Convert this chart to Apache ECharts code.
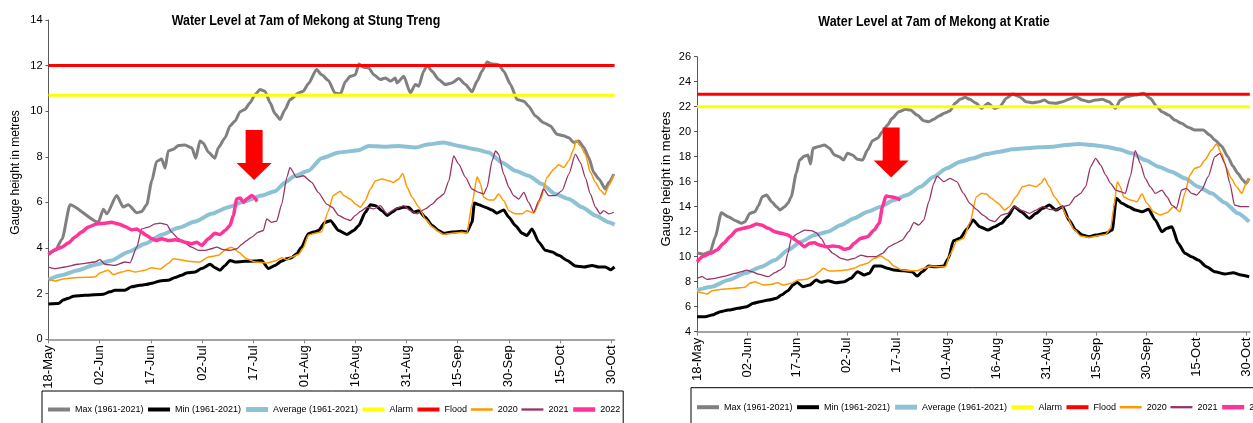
<!DOCTYPE html>
<html>
<head>
<meta charset="utf-8">
<script src="https://cdn.jsdelivr.net/npm/echarts@6.0.0/dist/echarts.min.js"></script>
<style>
html,body{margin:0;padding:0;background:#fff;}
#c{width:1253px;height:423px;}
</style>
</head>
<body>
<div id="c"></div>
<script>
// ---------- DATA ----------
const tickLabels = ['18-May','02-Jun','17-Jun','02-Jul','17-Jul','01-Aug','16-Aug','31-Aug','15-Sep','30-Sep','15-Oct','30-Oct'];
const tickDays = [0,15,30,45,60,75,90,105,120,135,150,165];
const lastDay = 166;
const seriesNames = ['Max (1961-2021)','Min (1961-2021)','Average (1961-2021)','Alarm','Flood','2020','2021','2022'];
const stationTitles = ['Water Level at 7am of Mekong at Stung Treng','Water Level at 7am of Mekong at Kratie'];
const yAxisTitle = 'Gauge height in metres';

// Stung Treng  [day since 18-May, metres]
const stAlarm = 10.7;
const stFlood = 12;
const stMax = [[0,3.75],[2,3.9],[4,4.4],[6.3,5.9],[14.6,5.13],[16.1,5.7],[17.1,5.5],[20,6.3],[21.9,5.8],[23.4,5.9],[25.9,5.55],[27.3,5.6],[28.8,5.9],[30.3,6.95],[31.7,7.8],[33.2,7.9],[34.2,7.5],[35.1,8.26],[36.6,8.33],[38.1,8.5],[40,8.52],[42,8.4],[43.2,7.94],[44.4,8.7],[45.4,8.6],[46.9,8.2],[48.8,7.94],[49.8,8.4],[51.8,8.84],[53.2,9.35],[54.7,9.57],[56.2,9.98],[57.6,10.08],[59.1,10.37],[60.6,10.73],[62,10.95],[63.5,10.88],[65,10.37],[66.4,9.9],[67.9,9.64],[69.4,10.08],[70.8,10.5],[73.3,10.8],[74.7,10.88],[76.2,11.2],[78.6,11.83],[80.1,11.6],[82.1,11.35],[84,10.8],[85.6,10.76],[87.1,11.3],[88.5,11.53],[90,11.6],[91,12.07],[92.4,11.93],[93.9,11.9],[95.4,11.6],[97.3,11.39],[98.8,11.46],[100.3,11.32],[101.7,11.46],[102.2,11.24],[104.2,11.53],[106.1,10.8],[107.6,11.17],[108.6,11.1],[110,11.75],[111,12.01],[112.5,11.75],[114.4,11.39],[116.4,11.17],[118.3,11.24],[120.3,11.43],[122.3,11.17],[124.2,10.85],[125.7,11.32],[127.1,11.75],[128.6,12.16],[130.1,12.07],[132,12.04],[133.5,11.75],[135.5,11.17],[137.4,10.51],[139.4,10.44],[140.8,10.22],[142.8,9.79],[145.2,9.5],[147.2,9.35],[149.1,8.99],[151.1,8.92],[152.6,8.84],[154,8.63],[155.5,8.7],[157,8.41],[158.4,7.98],[159.9,7.31],[161.4,7.03],[163.3,6.59],[164.3,6.88],[165.8,7.24]];
const stMin = [[0,1.55],[2.9,1.57],[4.3,1.72],[5.8,1.8],[7.3,1.89],[10.7,1.93],[16.1,1.98],[18,2.08],[19.5,2.15],[22.4,2.15],[24.4,2.3],[26.8,2.37],[28.5,2.4],[30.7,2.47],[32.7,2.56],[35.1,2.59],[37.1,2.71],[39,2.81],[40.5,2.91],[43,2.95],[44.9,3.1],[47.4,3.29],[48.8,3.14],[50.3,3.03],[51.8,3.24],[53.2,3.46],[54.7,3.39],[57.6,3.42],[60.6,3.43],[62.5,3.46],[64.5,3.1],[66.4,3.24],[68.4,3.43],[69.9,3.53],[71.3,3.58],[72.8,3.75],[74.2,4.04],[76.2,4.63],[77.7,4.7],[79.2,4.77],[81.1,5.13],[82.7,5.2],[85.1,4.77],[87.5,4.6],[89.5,4.77],[91,4.99],[92.9,5.57],[94.4,5.9],[95.9,5.86],[97.8,5.64],[99.3,5.43],[100.7,5.57],[102.2,5.72],[104.2,5.79],[105.6,5.79],[107.1,5.57],[108.6,5.64],[110.5,5.35],[112.5,4.99],[114.4,4.77],[115.9,4.65],[118.3,4.7],[121.3,4.74],[122.7,4.7],[124.2,5.13],[124.9,5.98],[126.2,5.9],[128.1,5.79],[130.1,5.67],[131.5,5.53],[133.5,5.67],[135,5.35],[136.9,4.99],[138.9,4.65],[140.3,4.55],[141.8,4.84],[143.8,4.26],[145.7,3.9],[147.7,3.83],[149.6,3.68],[152.1,3.46],[154.5,3.21],[157,3.17],[159.4,3.24],[161.4,3.17],[163.3,3.17],[164.8,3.05],[166,3.17]];
const stAvg = [[0,2.62],[3.9,2.81],[8.7,3.03],[13.6,3.27],[18.5,3.46],[23.4,3.83],[28.3,4.19],[33.2,4.58],[38.1,4.89],[43,5.16],[47.8,5.5],[52.7,5.79],[57.6,6.05],[62.5,6.3],[66.4,6.49],[69.4,6.88],[72.3,7.17],[76.2,7.39],[80.1,7.94],[85.1,8.19],[91,8.29],[93.9,8.48],[98.8,8.44],[102.7,8.48],[107.6,8.41],[111.5,8.55],[115.9,8.63],[120.3,8.48],[125.2,8.33],[129.1,8.19],[133,7.75],[136.9,7.39],[140.8,7.17],[144.7,6.81],[148.6,6.37],[152.6,6.15],[156.5,5.79],[160.4,5.43],[164.3,5.13],[166,5.02]];
const st2020 = [[0,2.62],[2,2.56],[4.8,2.66],[8.7,2.71],[13.6,2.73],[15.1,2.91],[17.5,3.03],[19,2.84],[21.5,2.95],[23.4,3.03],[25.4,2.95],[28.3,3.03],[30.3,3.14],[32.7,3.08],[35.1,3.32],[36.6,3.53],[38.6,3.49],[41,3.42],[44.4,3.39],[46.9,3.61],[49.8,3.68],[52.3,3.97],[53.7,4.04],[55.7,3.83],[58.1,3.53],[60.6,3.39],[64,3.35],[66.4,3.43],[68.4,3.58],[69.9,3.49],[71.3,3.61],[73.3,3.72],[74.7,4.0],[76.2,4.57],[78.2,4.65],[80.1,4.72],[82,5.6],[83.5,6.3],[85.6,6.49],[86.6,6.3],[88.5,6.15],[90,5.93],[91.5,5.79],[92.9,6.08],[94.4,6.59],[95.9,6.95],[97.8,7.03],[99.8,6.95],[101.2,6.88],[102.7,7.03],[103.9,7.27],[105.2,6.66],[106.6,6.23],[108.6,5.79],[110.5,5.28],[112.5,4.94],[114.4,4.72],[115.9,4.6],[118.3,4.65],[121.3,4.69],[122.7,4.65],[124.2,5.93],[125.7,7.13],[126.7,6.81],[127.6,6.23],[129.1,6.11],[130.6,6.11],[132,6.37],[133.5,6.08],[135,5.64],[136.9,5.5],[138.9,5.5],[140.3,5.64],[142.3,5.53],[144.2,6.08],[146.2,7.1],[148.2,7.46],[149.6,7.65],[151.1,7.53],[152.6,7.83],[154,8.33],[154.7,8.73],[156,8.48],[157.4,8.12],[158.9,7.32],[160.4,6.88],[161.8,6.55],[163.1,6.34],[164.3,6.73],[165.8,7.21]];
const st2021 = [[0,3.17],[2,3.1],[4.8,3.17],[8.7,3.29],[13.6,3.39],[15.1,3.49],[16.6,3.29],[19.5,3.24],[22.4,3.39],[23.9,3.35],[25.9,4.04],[27.3,4.84],[29.3,4.92],[31.2,5.06],[32.7,5.09],[34.7,5.03],[36.1,4.7],[38.1,4.41],[40,4.22],[42,4.04],[44,3.9],[45.9,3.9],[47.8,3.97],[49.3,4.04],[51.3,3.93],[53.2,3.9],[55.2,3.97],[56.7,4.16],[58.1,4.33],[59.6,4.48],[61.5,4.7],[63,4.77],[64,5.28],[65.4,5.13],[66.9,5.18],[68.4,5.93],[69.9,7.1],[70.8,7.53],[72.8,7.1],[74.7,7.17],[77.2,6.88],[79.1,6.44],[81.6,5.93],[83.2,5.79],[85.1,5.43],[87.1,5.28],[88.5,5.21],[90,5.43],[91.5,5.61],[93.4,5.79],[95.4,5.72],[97.3,5.86],[99.3,5.5],[101.7,5.72],[104.2,5.86],[106.1,5.64],[108.1,5.5],[110.5,5.72],[112.5,5.93],[114.4,6.2],[115.9,6.37],[117.4,6.95],[118.8,8.04],[120.3,7.68],[122.3,7.1],[124.2,6.59],[126.2,6.44],[127.6,6.37],[128.6,6.66],[130.1,7.83],[131.1,8.26],[132,8.12],[133.5,7.24],[135,6.66],[136.4,6.3],[137.9,6.15],[139.4,6.44],[140.8,6.0],[142.3,5.57],[143.8,6.08],[145.2,6.59],[146.7,6.3],[148.6,6.3],[150.6,6.52],[152.6,7.24],[154.5,8.12],[156,7.75],[157.4,7.1],[158.9,6.37],[160.4,5.79],[161.8,5.5],[162.8,5.64],[164.3,5.5],[165.8,5.57]];
const st2022 = [[0,3.72],[2,3.93],[3.9,4.04],[5.8,4.22],[7.8,4.48],[9.7,4.7],[11.7,4.92],[14.1,5.06],[16.6,5.09],[18.5,5.13],[20.5,5.06],[22.4,4.95],[24.4,4.8],[25.9,4.84],[27.3,4.7],[28.8,4.55],[30.3,4.41],[31.7,4.33],[33.2,4.41],[35.1,4.33],[37.1,4.36],[38.6,4.33],[40,4.26],[42,4.19],[43.5,4.26],[44.9,4.12],[46.9,4.41],[48.8,4.65],[50.3,4.6],[51.8,4.77],[53.2,4.99],[54.2,5.43],[55.2,6.15],[56.2,6.2],[57.2,6.0],[58.1,6.15],[59.6,6.3],[61.2,6.05]];

// Kratie  [day since 18-May, metres]
const krAlarm = 22;
const krFlood = 23;
const krMax = [[0,10.32],[2,10.2],[4,10.4],[5.5,11.6],[7.3,13.52],[9.4,13.2],[11.4,12.9],[13.4,12.67],[14.4,12.8],[15.9,13.47],[17.4,13.6],[18.4,14.05],[19.6,14.8],[20.9,14.93],[22.4,14.4],[23.9,14.0],[24.9,13.73],[26.3,14.0],[27.3,14.27],[28.3,14.8],[29.8,16.67],[30.8,17.73],[32.3,18.05],[33.3,18.13],[34.1,17.41],[34.8,18.67],[36.3,18.8],[38.3,18.93],[39.8,18.67],[41.3,18.13],[42.7,18.0],[44,17.73],[45.2,18.27],[46.7,18.13],[48.2,17.79],[49.7,17.73],[51.2,18.53],[52.7,19.28],[54.2,19.47],[55.7,20.0],[57.2,20.53],[58.6,21.07],[60.6,21.6],[62.6,21.79],[64.1,21.73],[66.1,21.33],[68.1,20.88],[69.6,20.8],[71.1,20.99],[72.6,21.25],[74.6,21.52],[76,21.68],[77.5,22.27],[79,22.59],[80.5,22.75],[81.9,22.59],[83.9,22.27],[85.4,21.87],[87.4,22.27],[89.4,21.87],[90.9,22.0],[92.9,22.67],[94.8,23.01],[96.8,22.8],[98.8,22.4],[100.8,22.32],[102.8,22.4],[104.3,22.53],[105.8,22.32],[107.8,22.27],[109.8,22.4],[111.7,22.59],[113.7,22.8],[115.7,22.53],[117.7,22.4],[119.7,22.53],[121.7,22.59],[123.7,22.4],[125.7,21.87],[127.1,22.53],[129.1,22.8],[131.6,22.93],[134.1,23.07],[136.1,22.67],[138.1,22.0],[139.6,21.6],[141.6,21.33],[143.5,20.93],[145.5,20.67],[147.5,20.35],[149.5,20.13],[152,20.13],[154,19.73],[155.5,19.33],[157.5,18.85],[159.4,18.0],[160.9,17.25],[162.4,16.67],[163.9,16.13],[164.9,15.87],[165.8,16.27]];
const krMin = [[0,5.2],[2.5,5.2],[4.5,5.33],[7,5.6],[9.4,5.73],[12.4,5.87],[14.9,6.0],[16.9,6.27],[18.9,6.4],[21.4,6.53],[23.9,6.67],[25.3,6.93],[27.3,7.28],[28.8,7.73],[30.1,7.95],[31.8,7.6],[33.8,7.73],[35.8,8.13],[37.3,7.95],[39.3,8.08],[41.7,7.92],[44.2,8.0],[46.2,8.27],[48.2,8.8],[50.2,8.53],[51.7,8.67],[53.2,9.25],[55.2,9.25],[57.2,9.07],[59.1,8.93],[62.1,8.88],[64.6,8.8],[66.1,8.45],[67.6,8.8],[69.6,9.25],[71.6,9.2],[74.1,9.25],[75.5,9.87],[77,11.28],[79,11.47],[81,12.2],[82.9,12.93],[84.9,12.4],[87.4,12.13],[89.4,12.4],[91.4,12.67],[93.3,13.2],[95.3,14.0],[97.3,13.6],[99.8,13.07],[101.8,13.47],[103.8,13.87],[105.8,14.13],[107.8,13.73],[109.8,14.0],[111.7,12.93],[113.7,12.13],[115.7,11.73],[117.7,11.6],[119.7,11.73],[122.7,11.87],[124.7,12.13],[125.9,14.67],[127.6,14.27],[129.6,14.0],[131.6,13.73],[133.6,13.6],[135.6,13.79],[137.6,12.93],[139.6,12.0],[141.1,12.27],[142.6,12.4],[144.5,11.07],[146.5,10.27],[148.5,10.0],[150.5,9.73],[153,9.2],[155.5,8.8],[158.5,8.61],[161,8.72],[163.4,8.53],[165.8,8.4]];
const krAvg = [[0,7.33],[4.5,7.6],[9.4,8.13],[14.4,8.67],[19.4,9.2],[23.4,9.73],[27.3,10.53],[31.3,11.2],[35.3,11.73],[39.3,12.0],[43.2,12.53],[47.2,13.07],[51.2,13.6],[55.2,14.0],[59.1,14.53],[63.1,14.93],[67.1,15.6],[71.1,16.4],[75,17.07],[79,17.6],[82.9,17.87],[86.9,18.21],[90.9,18.4],[94.8,18.59],[98.8,18.67],[102.8,18.75],[106.8,18.8],[110.7,18.93],[114.7,19.01],[118.7,18.93],[122.7,18.8],[126.6,18.59],[130.6,18.27],[134.6,17.73],[138.6,17.2],[142.5,16.8],[146.5,16.27],[150.5,15.6],[154.5,15.07],[158.5,14.32],[162.4,13.47],[165.8,12.8]];
const kr2020 = [[0,7.2],[1.5,7.12],[3,7.01],[4.5,7.28],[7.5,7.39],[11.4,7.47],[14.4,7.55],[15.9,7.87],[17.4,8.0],[19.9,7.73],[22.4,7.79],[24.2,7.92],[25.8,7.73],[28.3,7.87],[30.3,8.13],[32.8,8.19],[34.8,8.4],[36.8,8.8],[37.8,9.07],[39.8,8.85],[42.2,8.88],[44.7,8.93],[47.2,9.07],[49.2,9.33],[51.2,9.47],[53.2,9.87],[55.2,10.05],[57.2,9.73],[59.1,9.25],[61.6,8.93],[64.1,8.88],[66.1,8.88],[68.1,9.07],[70.1,9.25],[72.6,9.2],[74.6,9.2],[76,10.2],[78,11.25],[80,11.45],[81.9,12.67],[83.9,14.8],[85.4,15.07],[86.9,15.01],[88.4,14.67],[90.4,14.27],[92.4,13.73],[93.8,14.0],[95.8,14.8],[97.8,15.6],[99.8,15.73],[101.8,15.6],[103.3,15.87],[104.3,16.27],[105.8,15.6],[107.3,14.8],[109.3,14.13],[111.2,13.15],[113.2,12.2],[115.2,11.65],[117.7,11.53],[120,11.65],[122.7,11.78],[124.2,12.27],[125.2,14.0],[126.2,16.0],[127.1,15.6],[128.1,14.8],[130.1,14.53],[132.1,14.4],[133.6,15.01],[135.1,14.27],[137.1,13.6],[139.1,13.33],[141.1,13.52],[143.1,14.0],[145,13.6],[146.5,15.07],[148,16.53],[149.5,17.07],[151,17.2],[152.5,17.73],[154.5,18.53],[156,19.01],[157.5,18.27],[159,17.07],[160.4,16.27],[162,15.6],[163.6,15.07],[164.9,15.87],[165.8,16.27]];
const kr2021 = [[0,8.27],[1.5,8.4],[3,8.19],[5.5,8.27],[8.5,8.45],[11.4,8.67],[13.4,8.8],[14.9,8.93],[16.4,8.8],[18.4,8.61],[21.4,8.4],[23.4,8.72],[24.9,8.93],[26.3,9.2],[27.3,10.27],[28.3,11.47],[30.3,11.87],[32.3,12.13],[34.3,12.08],[35.8,11.92],[37.3,11.47],[38.8,10.8],[40.8,10.27],[43.2,9.87],[45.2,9.73],[47.2,9.87],[49.2,10.13],[51.2,10.0],[53.7,10.0],[55.7,10.27],[57.7,10.8],[59.6,11.07],[61.6,11.33],[63.6,12.0],[65.1,12.72],[66.6,12.53],[68.1,12.93],[69.6,14.4],[71.1,15.87],[72.1,16.45],[74.1,16.0],[76,16.27],[78,16.0],[80,15.07],[81.9,14.27],[83.9,13.79],[85.9,13.33],[87.9,12.93],[89.4,12.8],[91.4,13.33],[93.3,13.47],[95.3,14.0],[97.3,13.73],[99.8,13.47],[101.8,13.73],[103.8,14.0],[105.8,13.79],[107.8,13.73],[109.8,14.0],[111.7,14.13],[113.7,14.8],[115.2,15.07],[116.7,15.6],[118.2,17.2],[119.7,17.87],[121.2,17.33],[122.7,16.53],[124.2,15.87],[125.7,15.33],[127.1,15.2],[128.6,15.07],[130.1,16.4],[131.6,18.48],[133.1,17.47],[134.6,16.27],[136.1,15.6],[137.6,15.07],[139.6,15.33],[141.1,14.8],[142.6,14.13],[144,13.87],[145.5,15.33],[147,15.47],[148.5,15.07],[150,14.93],[151.5,15.33],[153.5,16.4],[155.5,18.0],[157,18.27],[158.5,17.47],[160,15.87],[161.4,14.13],[163.4,14.0],[165.8,14.0]];
const kr2022 = [[0,9.6],[2,10.05],[4,10.27],[6,10.53],[8,11.07],[9.9,11.6],[11.9,12.13],[13.9,12.27],[15.9,12.4],[17.9,12.61],[19.4,12.53],[21.4,12.27],[23.4,12.0],[25.3,11.87],[27.3,11.73],[28.8,11.47],[30.3,11.2],[32.3,10.8],[33.8,11.07],[35.3,11.12],[36.8,10.93],[38.8,10.8],[40.8,10.85],[42.7,10.8],[44.2,10.59],[45.7,10.67],[47.2,11.07],[49.2,11.47],[51.2,11.6],[53.2,12.13],[54.7,12.67],[55.7,14.0],[56.7,14.85],[58.2,14.8],[59.6,14.72],[61.1,14.53]];

// arrow annotation anchor points (day, metres)
const stArrowAt = [60.3, 8.08];
const krArrowAt = [58.3, 18.34];

// ---------- STYLE / LAYOUT ----------
const styles = [
  {color:'#808080', width:3},
  {color:'#000000', width:3},
  {color:'#8DC2D6', width:4},
  {color:'#FFFF00', width:3},
  {color:'#FF0000', width:3},
  {color:'#FF9900', width:1.5},
  {color:'#993366', width:1.3},
  {color:'#FF3399', width:3.5}
];
const FONT = '"Liberation Sans", Arial, sans-serif';
const arrowPath = 'path://M9,0 L26,0 L26,33 L35,33 L17.5,50 L0,33 L9,33 Z';

const panels = [
  {grid:{left:48.5, top:20, width:lastDay*3.41, height:319.3}, yMin:0, yMax:14,
   data:[stMax, stMin, stAvg, null, null, st2020, st2021, st2022], alarm:stAlarm, flood:stFlood, arrow:stArrowAt,
   legend:{left:42, top:391, padding:[14,3,14,4]}},
  {grid:{left:697, top:56.7, width:lastDay*3.353, height:275}, yMin:4, yMax:26,
   data:[krMax, krMin, krAvg, null, null, kr2020, kr2021, kr2022], alarm:krAlarm, flood:krFlood, arrow:krArrowAt,
   legend:{left:691, top:387.7, padding:[15,3,14,4]}}
];

const option = {
  animation:false,
  backgroundColor:'#fff',
  grid:[], xAxis:[], yAxis:[], series:[], legend:[],
  graphic:[]
};

panels.forEach((p, i) => {
  option.grid.push(Object.assign({containLabel:false}, p.grid));
  option.xAxis.push({
    type:'value', gridIndex:i, min:0, max:lastDay,
    axisLine:{show:true, lineStyle:{color:'#868686', width:1.5}},
    axisTick:{show:true, inside:false, length:4, lineStyle:{color:'#868686', width:1}, customValues:tickDays},
    axisLabel:{show:true, rotate:90, margin:6, fontSize:13, fontFamily:FONT, color:'#000',
      customValues:tickDays,
      formatter:(v) => { const k = tickDays.indexOf(Math.round(v)); return k >= 0 ? tickLabels[k] : ''; }},
    splitLine:{show:false}
  });
  option.yAxis.push({
    type:'value', gridIndex:i, min:p.yMin, max:p.yMax, interval:2,
    axisLine:{show:true, lineStyle:{color:'#595959', width:1}},
    axisTick:{show:true, inside:false, length:3, lineStyle:{color:'#595959'}},
    axisLabel:{margin:6, fontSize:11, fontFamily:FONT, color:'#000'},
    splitLine:{show:false}
  });
  seriesNames.forEach((name, k) => {
    let d = p.data[k];
    if (k === 3) d = [[0, p.alarm],[lastDay, p.alarm]];
    if (k === 4) d = [[0, p.flood],[lastDay, p.flood]];
    const s = {
      name, type:'line', xAxisIndex:i, yAxisIndex:i, data:d,
      symbol:'none', showSymbol:false, smooth:(k===3||k===4)?false:0.2, smoothMonotone:'x',
      lineStyle:{color:styles[k].color, width:styles[k].width},
      itemStyle:{color:styles[k].color},
      emphasis:{disabled:true}, silent:true, clip:true
    };
    if (k === 7) {
      s.markPoint = {
        silent:true, symbol:arrowPath, symbolSize:[35,50],
        itemStyle:{color:'#FF0000'}, label:{show:false},
        data:[{coord:p.arrow}]
      };
    }
    option.series.push(s);
  });
  option.legend.push({
    left:p.legend.left, top:p.legend.top, padding:p.legend.padding, width:900,
    orient:'horizontal', selectedMode:false,
    borderColor:'#000', borderWidth:1,
    itemWidth:22, itemHeight:10, itemGap:2.5,
    data:seriesNames.map((n,k)=>({name:n,
      lineStyle:{width:styles[k].width+1, color:styles[k].color},
      itemStyle:{opacity:0, color:'rgba(0,0,0,0)', borderWidth:0}})),
    textStyle:{fontSize:9, fontFamily:FONT, color:'#000'}
  });
});

// titles and y-axis titles
const titleStyle = (t) => ({text:t, font:'bold 15px ' + FONT, fill:'#000', textAlign:'center', textVerticalAlign:'middle', align:'center', verticalAlign:'middle'});
option.graphic.push(
  {type:'text', x:306, y:21, scaleX:0.83, style:titleStyle(stationTitles[0])},
  {type:'text', x:934, y:22, scaleX:0.83, style:titleStyle(stationTitles[1])},
  {type:'text', x:16, y:172.5, rotation:Math.PI/2, style:{text:yAxisTitle, font:'12px ' + FONT, fill:'#000', textAlign:'center', textVerticalAlign:'middle', align:'center', verticalAlign:'middle'}},
  {type:'text', x:666, y:179, rotation:Math.PI/2, style:{text:yAxisTitle, font:'13px ' + FONT, fill:'#000', textAlign:'center', textVerticalAlign:'middle', align:'center', verticalAlign:'middle'}}
);

const chart = echarts.init(document.getElementById('c'), null, {renderer:'canvas', width:1253, height:423});
chart.setOption(option);
</script>
</body>
</html>
